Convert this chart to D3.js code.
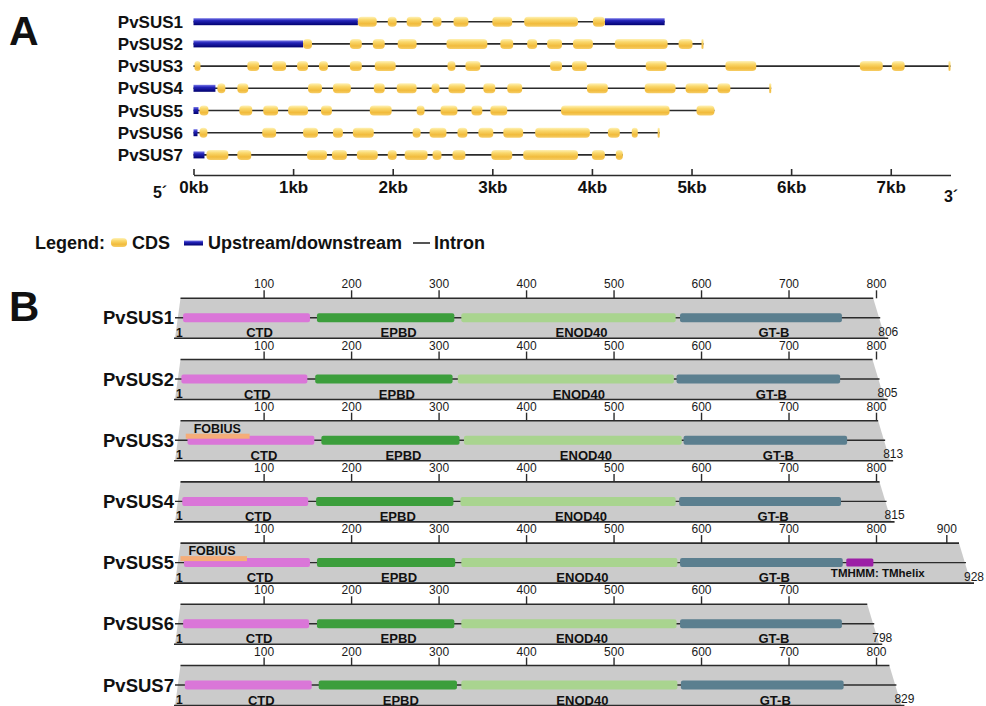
<!DOCTYPE html>
<html>
<head>
<meta charset="utf-8">
<script src="https://cdn.jsdelivr.net/npm/d3@7"></script>
<style>
  html, body { margin: 0; padding: 0; background: #ffffff; }
  svg { display: block; font-family: "Liberation Sans", Arial, Helvetica, sans-serif; }
</style>
</head>
<body>
<svg id="fig" width="986" height="706"></svg>
<script>
// ---------------- Panel A: gene structures (kb) ----------------
const geneNames = ["PvSUS1", "PvSUS2", "PvSUS3", "PvSUS4", "PvSUS5", "PvSUS6", "PvSUS7"];
const geneLengthsKb = [4.73, 5.12, 7.60, 5.80, 5.23, 4.68, 4.31];
const utrSegments = [
  [[0, 1.65], [4.13, 4.73]],
  [[0, 1.10]],
  [],
  [[0, 0.22]],
  [[0, 0.05]],
  [[0, 0.04]],
  [[0, 0.11]]
];
const cdsSegments = [
  [[1.65,1.84],[1.95,2.04],[2.14,2.29],[2.40,2.49],[2.61,2.76],[3.00,3.20],[3.32,3.86],[4.01,4.13]],
  [[1.10,1.19],[1.57,1.69],[1.80,1.92],[2.05,2.24],[2.54,2.95],[3.08,3.21],[3.35,3.45],[3.55,3.70],[3.81,4.01],[4.23,4.76],[4.87,5.01],[5.10,5.12]],
  [[0.01,0.07],[0.54,0.66],[0.79,0.93],[1.04,1.15],[1.26,1.35],[1.57,1.69],[1.82,2.03],[2.55,2.63],[2.73,2.88],[3.58,3.70],[3.80,3.95],[4.54,4.75],[5.34,5.65],[6.69,6.92],[7.01,7.14],[7.58,7.60]],
  [[0.24,0.32],[0.44,0.55],[1.15,1.29],[1.40,1.58],[1.81,1.92],[2.04,2.24],[2.39,2.47],[2.56,2.73],[2.91,3.03],[3.15,3.30],[3.95,4.16],[4.53,4.84],[4.94,5.17],[5.26,5.39],[5.78,5.80]],
  [[0.06,0.15],[0.46,0.59],[0.70,0.85],[0.95,1.15],[1.28,1.39],[1.77,1.99],[2.24,2.32],[2.48,2.65],[2.79,2.90],[2.98,3.15],[3.69,4.78],[5.05,5.23]],
  [[0.06,0.14],[0.69,0.83],[1.10,1.25],[1.40,1.50],[1.60,1.81],[2.20,2.28],[2.37,2.54],[2.65,2.75],[2.86,3.01],[3.11,3.31],[3.43,3.98],[4.16,4.28],[4.40,4.46],[4.66,4.68]],
  [[0.13,0.35],[0.44,0.58],[1.14,1.34],[1.39,1.54],[1.64,1.85],[1.95,2.04],[2.12,2.35],[2.40,2.49],[2.60,2.73],[2.99,3.20],[3.31,3.86],[4.00,4.13],[4.24,4.31]]
];
const kbTicks = [0, 1, 2, 3, 4, 5, 6, 7];

// ---------------- Panel B: protein domains (aa) ----------------
const proteinNames = ["PvSUS1", "PvSUS2", "PvSUS3", "PvSUS4", "PvSUS5", "PvSUS6", "PvSUS7"];
const proteinLengths = [806, 805, 813, 815, 928, 798, 829];
const domainNames = ["CTD", "EPBD", "ENOD40", "GT-B"];
const ctdRanges    = [[8,153],[6,150],[13,158],[7,151],[9,153],[8,152],[10,155]];
const epbdRanges   = [[161,318],[159,316],[166,324],[160,317],[161,319],[161,318],[163,321]];
const enod40Ranges = [[326,571],[322,569],[329,578],[325,571],[326,573],[326,572],[326,573]];
const gtbRanges    = [[576,761],[572,759],[580,767],[575,760],[576,762],[576,761],[577,763]];
const fobiusRanges = [null, null, [11,84], null, [5,81], null, null];
const tmhelixRanges = [null, null, null, null, [766,797], null, null];

// ---------------- drawing ----------------
const svg = d3.select("#fig");
svg.append("rect").attr("width", 986).attr("height", 706).attr("fill", "#ffffff");
const defs = svg.append("defs");

const cdsGrad = defs.append("linearGradient").attr("id", "cdsGrad")
  .attr("x1", 0).attr("y1", 0).attr("x2", 0).attr("y2", 1);
[["0%", "#fff2b8"], ["30%", "#fad86c"], ["70%", "#f1bb3c"], ["100%", "#f6cd66"]]
  .forEach(([o, c]) => cdsGrad.append("stop").attr("offset", o).attr("stop-color", c));

const utrGrad = defs.append("linearGradient").attr("id", "utrGrad")
  .attr("x1", 0).attr("y1", 0).attr("x2", 0).attr("y2", 1);
[["0%", "#7b7be8"], ["35%", "#2323b8"], ["100%", "#00006e"]]
  .forEach(([o, c]) => utrGrad.append("stop").attr("offset", o).attr("stop-color", c));

const ink = "#2b2b2b";

// Panel letters
svg.append("text").attr("x", 9).attr("y", 45).attr("font-size", 41).attr("font-weight", "bold")
  .attr("fill", "#111").text("A");
svg.append("text").attr("x", 9).attr("y", 321).attr("font-size", 42).attr("font-weight", "bold")
  .attr("fill", "#111").text("B");

// ---- Panel A ----
const xKb = d3.scaleLinear().domain([0, 7.6]).range([193.5, 950.5]);
const yGene = d3.scalePoint().domain(geneNames).range([21.7, 154.9]);

const genes = geneNames.map((name, i) => ({
  name, len: geneLengthsKb[i], utr: utrSegments[i], cds: cdsSegments[i]
}));

const gA = svg.append("g");
const geneRow = gA.selectAll("g.gene").data(genes).join("g")
  .attr("class", "gene")
  .attr("transform", d => `translate(0,${yGene(d.name)})`);

geneRow.append("text")
  .attr("x", 183).attr("y", 6)
  .attr("text-anchor", "end").attr("font-size", 17).attr("font-weight", "bold")
  .attr("fill", "#111").text(d => d.name);

geneRow.append("line")
  .attr("x1", xKb(0)).attr("x2", d => xKb(d.len))
  .attr("y1", 0).attr("y2", 0)
  .attr("stroke", ink).attr("stroke-width", 1.6);

geneRow.selectAll("rect.utr").data(d => d.utr).join("rect")
  .attr("class", "utr")
  .attr("x", s => xKb(s[0])).attr("width", s => Math.max(1.5, xKb(s[1]) - xKb(s[0])))
  .attr("y", -3.5).attr("height", 7)
  .attr("fill", "url(#utrGrad)");

geneRow.selectAll("rect.cds").data(d => d.cds).join("rect")
  .attr("class", "cds")
  .attr("x", s => xKb(s[0])).attr("width", s => Math.max(2, xKb(s[1]) - xKb(s[0])))
  .attr("y", -5).attr("height", 10)
  .attr("rx", s => Math.min(4, (xKb(s[1]) - xKb(s[0])) / 2))
  .attr("fill", "url(#cdsGrad)");

const axisA = d3.axisBottom(xKb)
  .tickValues(kbTicks)
  .tickSizeInner(-6).tickSizeOuter(0).tickPadding(6)
  .tickFormat(d => d + "kb");
const gAxisA = gA.append("g").attr("transform", "translate(0,175)").call(axisA);
gAxisA.select(".domain").attr("stroke", ink).attr("stroke-width", 1.6);
gAxisA.selectAll(".tick line").attr("stroke", ink).attr("stroke-width", 1.6);
gAxisA.selectAll(".tick text").attr("font-size", 17).attr("font-weight", "bold")
  .attr("fill", "#111").attr("font-family", null);

gA.append("text").attr("x", 160).attr("y", 198).attr("text-anchor", "middle")
  .attr("font-size", 16).attr("font-weight", "bold").attr("fill", "#111").text("5\u00B4");
gA.append("text").attr("x", 951).attr("y", 202).attr("text-anchor", "middle")
  .attr("font-size", 16).attr("font-weight", "bold").attr("fill", "#111").text("3\u00B4");

// Legend
const gL = svg.append("g").attr("font-size", 18).attr("font-weight", "bold").attr("fill", "#111");
gL.append("text").attr("x", 35).attr("y", 249).text("Legend:");
gL.append("rect").attr("x", 111).attr("y", 238).attr("width", 16).attr("height", 9).attr("rx", 4)
  .attr("fill", "url(#cdsGrad)");
gL.append("text").attr("x", 132).attr("y", 249).text("CDS");
gL.append("rect").attr("x", 184).attr("y", 240.5).attr("width", 19).attr("height", 5)
  .attr("fill", "url(#utrGrad)");
gL.append("text").attr("x", 208).attr("y", 249).text("Upstream/downstream");
gL.append("line").attr("x1", 413).attr("x2", 430).attr("y1", 243).attr("y2", 243)
  .attr("stroke", ink).attr("stroke-width", 1.6);
gL.append("text").attr("x", 434).attr("y", 249).text("Intron");

// ---- Panel B ----
const xAA = d3.scaleLinear().domain([1, 800, 928]).range([177, 876, 966]);
const rowTop = d3.scalePoint().domain(proteinNames).range([298.3, 665.5]);
const domainColors = d3.scaleOrdinal().domain(domainNames)
  .range(["#da76d8", "#3c9e3c", "#a9d48f", "#5b7f8f"]);

const proteins = proteinNames.map((name, i) => ({
  name, len: proteinLengths[i],
  domains: [ctdRanges[i], epbdRanges[i], enod40Ranges[i], gtbRanges[i]]
    .map((r, k) => ({ name: domainNames[k], start: r[0], end: r[1] })),
  fobius: fobiusRanges[i], tm: tmhelixRanges[i]
}));

const gB = svg.append("g");
proteins.forEach(p => {
  const T = rowTop(p.name), P = T + 19.5, B = T + 40;
  const x0 = xAA(1), xe = xAA(p.len);
  const g = gB.append("g");

  g.append("polygon")
    .attr("points", [[x0 + 3.5, T], [xe - 7, T], [xe + 5, B], [x0 - 2, B]].map(q => q.join(",")).join(" "))
    .attr("fill", "#cbcbcb");

  g.append("line").attr("x1", x0 + 3.5).attr("x2", xe - 7).attr("y1", T).attr("y2", T)
    .attr("stroke", ink).attr("stroke-width", 1.6);
  g.append("line").attr("x1", x0 - 3).attr("x2", xe + 8).attr("y1", B).attr("y2", B)
    .attr("stroke", ink).attr("stroke-width", 1.6);

  const ax = d3.axisTop(xAA).tickValues(d3.range(100, p.len, 100))
    .tickSizeInner(8).tickSizeOuter(0).tickPadding(2);
  const gax = g.append("g").attr("transform", `translate(0,${T})`).call(ax);
  gax.select(".domain").remove();
  gax.selectAll(".tick line").attr("stroke", ink).attr("stroke-width", 1.4);
  gax.selectAll(".tick text").attr("font-size", 12).attr("fill", "#1a1a1a").attr("font-family", null);

  // backbone
  g.append("line").attr("x1", x0 - 2).attr("x2", xe).attr("y1", P).attr("y2", P)
    .attr("stroke", ink).attr("stroke-width", 1.4);

  g.selectAll("rect.dom").data(p.domains).join("rect")
    .attr("class", "dom")
    .attr("x", d => xAA(d.start)).attr("width", d => xAA(d.end) - xAA(d.start))
    .attr("y", P - 4.5).attr("height", 9).attr("rx", 2)
    .attr("fill", d => domainColors(d.name));

  g.selectAll("text.domlab").data(p.domains).join("text")
    .attr("class", "domlab")
    .attr("x", d => xAA((d.start + d.end) / 2) + 13).attr("y", B - 1)
    .attr("text-anchor", "middle").attr("font-size", 13).attr("font-weight", "bold")
    .attr("fill", "#111").text(d => d.name);

  if (p.fobius) {
    g.append("rect").attr("x", xAA(p.fobius[0])).attr("width", xAA(p.fobius[1]) - xAA(p.fobius[0]))
      .attr("y", P - 6.5).attr("height", 5).attr("fill", "#f5ad79");
    g.append("text").attr("x", xAA(p.fobius[0]) + 8).attr("y", T + 12)
      .attr("font-size", 12.5).attr("font-weight", "bold").attr("fill", "#111").text("FOBIUS");
  }
  if (p.tm) {
    g.append("rect").attr("x", xAA(p.tm[0])).attr("width", xAA(p.tm[1]) - xAA(p.tm[0]))
      .attr("y", P - 4).attr("height", 8).attr("rx", 1.5).attr("fill", "#9c1fa6");
    g.append("text").attr("x", xAA((p.tm[0] + p.tm[1]) / 2) + 18).attr("y", B - 6)
      .attr("text-anchor", "middle").attr("font-size", 11.5).attr("font-weight", "bold")
      .attr("fill", "#111").text("TMHMM: TMhelix");
  }

  g.append("text").attr("x", x0 - 3).attr("y", P + 6.5).attr("text-anchor", "end")
    .attr("font-size", 18.5).attr("font-weight", "bold").attr("fill", "#111").text(p.name);
  g.append("text").attr("x", x0 - 1).attr("y", B - 1.5)
    .attr("font-size", 12).attr("font-weight", "bold").attr("fill", "#111").text("1");
  g.append("text").attr("x", xe - 2).attr("y", B - 2.5)
    .attr("font-size", 12).attr("fill", "#1a1a1a").text(p.len);
});
</script>
</body>
</html>
